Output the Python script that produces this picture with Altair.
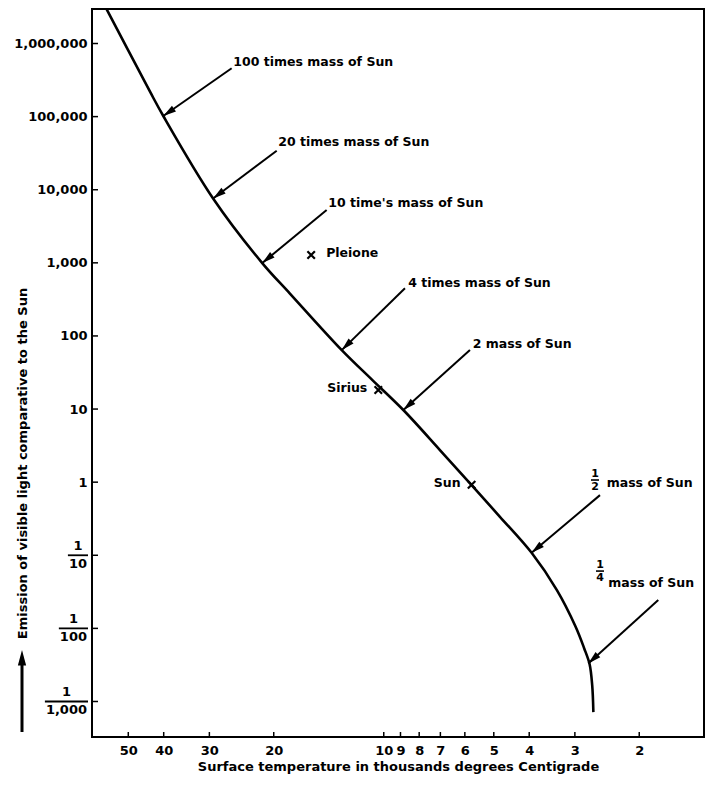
import math
import altair as alt
import pandas as pd

# ---------------- data ----------------
# main-sequence curve: surface temperature (thousands deg C) vs luminosity (Sun = 1)
curve_temp = [58.7, 43.6, 40.1, 29.3, 21.5, 18.06, 13.03, 10.74, 8.84,
              7.02, 5.75, 4.81, 3.94, 3.36, 2.99, 2.83, 2.735, 2.69, 2.67]
curve_lum = [3.7e6, 2.19e5, 1.02e5, 7.6e3, 993, 380, 64, 24.9, 9.7,
             2.75, 0.91, 0.336, 0.108, 0.0334, 0.0107, 0.00536, 0.00325, 0.00167, 0.000716]

star_names = ["Pleione", "Sirius", "Sun"]
star_temp = [15.8, 10.35, 5.75]
star_lum = [1280, 18.2, 0.92]

mass_labels = ["100 times mass of Sun", "20 times mass of Sun", "10 time's mass of Sun",
               "4 times mass of Sun", "2 mass of Sun", "mass of Sun", "mass of Sun"]
label_temp = [25.8, 19.44, 14.18, 8.57, 5.71, 2.455, 2.431]
label_lum = [5.64e5, 4.54e4, 6.52e3, 525, 77.5, 0.964, 0.0413]

arrow_tail_temp = [26.07, 19.63, 14.33, 8.75, 5.81, 2.561, 1.774]
arrow_tail_lum = [4.58e5, 3.42e4, 5.27e3, 448, 64.1, 0.665, 0.0244]
arrow_tip_temp = [40.1, 29.3, 21.5, 13.03, 8.84, 3.94, 2.757]
arrow_tip_lum = [1.02e5, 7.6e3, 993, 64, 9.7, 0.108, 0.00332]

frac_num = ["1", "1"]
frac_den = ["2", "4"]
frac_temp = [2.643, 2.561]
frac_lum = [1.07, 0.0608]

x_ticks = [50, 40, 30, 20, 10, 9, 8, 7, 6, 5, 4, 3, 2]
y_ticks = [1e6, 1e5, 1e4, 1e3, 100, 10, 1, 0.1, 0.01, 0.001]
y_frac_den = ["10", "100", "1,000"]

# ---------------- layout ----------------
W, H = 612, 728
X_DOM = [1.330, 62.84]
Y_DOM = [3.268e-4, 2.965e6]
FONT = "DejaVu Sans"
INK = "black"

xs = alt.Scale(type="log", domain=X_DOM, reverse=True, nice=False)
ys = alt.Scale(type="log", domain=Y_DOM, nice=False)

X_AXIS = alt.Axis(
    values=x_ticks, format="d",
    title="Surface temperature in thousands degrees Centigrade",
    domain=False, ticks=False, tickSize=0, grid=False,
    labelPadding=7, labelFont=FONT, labelFontSize=13, labelFontWeight="bold",
    labelColor=INK, labelOverlap=False, labelFlush=False,
    titleFont=FONT, titleFontSize=13, titleFontWeight="bold", titleColor=INK,
    titlePadding=3)
Y_AXIS = alt.Axis(
    values=y_ticks,
    labelExpr="datum.value >= 1 ? format(datum.value, ',') : ''",
    title="Emission of visible light comparative to the Sun",
    titleAngle=270, titleX=-70, titleY=454, titleAlign="center", titleBaseline="middle",
    domain=False, ticks=False, tickSize=0, grid=False,
    labelPadding=5, labelFont=FONT, labelFontSize=13, labelFontWeight="bold",
    labelColor=INK, labelOverlap=False, labelFlush=False,
    titleFont=FONT, titleFontSize=13, titleFontWeight="bold", titleColor=INK)


def X(f="T"):
    return alt.X(f"{f}:Q", scale=xs, axis=X_AXIS)


def Y(f="L"):
    return alt.Y(f"{f}:Q", scale=ys, axis=Y_AXIS)


kx = W / (math.log10(X_DOM[1]) - math.log10(X_DOM[0]))
ky = H / (math.log10(Y_DOM[1]) - math.log10(Y_DOM[0]))

# ---------------- tables ----------------
curve_df = pd.DataFrame({"T": curve_temp, "L": curve_lum, "i": list(range(len(curve_temp)))})
star_df = pd.DataFrame({"name": star_names, "T": star_temp, "L": star_lum})
label_df = pd.DataFrame({"text": mass_labels, "T": label_temp, "L": label_lum})

angles = []
for t0, l0, t1, l1 in zip(arrow_tail_temp, arrow_tail_lum, arrow_tip_temp, arrow_tip_lum):
    dx = (math.log10(t0) - math.log10(t1)) * kx
    dy = (math.log10(l0) - math.log10(l1)) * ky
    angles.append(math.degrees(math.atan2(dx, -dy)) % 360)
arrow_df = pd.DataFrame({"T": arrow_tail_temp, "L": arrow_tail_lum,
                         "T1": arrow_tip_temp, "L1": arrow_tip_lum, "ang": angles})
frac_df = pd.DataFrame({"num": frac_num, "den": frac_den, "T": frac_temp, "L": frac_lum})
xt_df = pd.DataFrame({"T": x_ticks})
yt_df = pd.DataFrame({"L": y_ticks})

HEAD = "M0,0L0.7,2.6L-0.7,2.6Z"
XMARK = "M-1,-1L1,1M1,-1L-1,1"

txt = dict(font=FONT, fontWeight="bold", color=INK)

# ---------------- layers ----------------
curve = alt.Chart(curve_df).mark_line(
    color=INK, strokeWidth=2.6, clip=True, interpolate="catmull-rom"
).encode(x=X(), y=Y(), order="i:Q")

stars = alt.Chart(star_df).mark_point(
    shape=XMARK, filled=False, stroke=INK, strokeWidth=2.2, size=56, opacity=1
).encode(x=X(), y=Y())

pleione_lbl = alt.Chart(star_df).transform_filter("datum.name == 'Pleione'").mark_text(
    align="left", baseline="middle", dx=15, dy=-2, fontSize=12.5, **txt
).encode(x=X(), y=Y(), text="name:N")
other_lbl = alt.Chart(star_df).transform_filter("datum.name != 'Pleione'").mark_text(
    align="right", baseline="middle", dx=-11, dy=-2, fontSize=12.5, **txt
).encode(x=X(), y=Y(), text="name:N")

shafts = alt.Chart(arrow_df).mark_rule(color=INK, strokeWidth=2).encode(
    x=X(), y=Y(), x2=alt.X2("T1:Q"), y2=alt.Y2("L1:Q"))
heads = alt.Chart(arrow_df).mark_point(
    shape=HEAD, filled=True, color=INK, size=100, opacity=1, strokeWidth=0
).encode(x=X("T1"), y=Y("L1"), angle=alt.Angle("ang:Q", scale=None))

labels = alt.Chart(label_df).mark_text(
    align="left", baseline="middle", fontSize=12.5, **txt
).encode(x=X(), y=Y(), text="text:N")

nums = alt.Chart(frac_df).mark_text(
    align="center", baseline="middle", dy=-6, fontSize=11, **txt
).encode(x=X(), y=Y(), text="num:N")
dens = alt.Chart(frac_df).mark_text(
    align="center", baseline="middle", dy=7, fontSize=11, **txt
).encode(x=X(), y=Y(), text="den:N")
bars = alt.Chart(frac_df).mark_rule(
    color=INK, strokeWidth=1.6, xOffset=-4, x2Offset=4
).encode(x=X(), x2=alt.X2("T:Q"), y=Y())

yticks = alt.Chart(yt_df).mark_rule(color=INK, strokeWidth=1.5).encode(
    x=alt.value(0), x2=alt.value(6), y=Y())
xticks = alt.Chart(xt_df).mark_rule(color=INK, strokeWidth=1.5).encode(
    x=X(), y=alt.value(H), y2=alt.value(H - 5))

layers = [curve, stars, pleione_lbl, other_lbl, shafts, heads, labels,
          nums, dens, bars, yticks, xticks]

# stacked-fraction labels for the small luminosities on the y axis
for den in y_frac_den:
    val = 1.0 / int(den.replace(",", ""))
    w = 9.05 * sum(c.isdigit() for c in den) + 4.9 * den.count(",")
    d = pd.DataFrame({"L": [val], "num": ["1"], "den": [den]})
    layers.append(alt.Chart(d).mark_text(
        align="center", baseline="middle", dy=-9, fontSize=13, **txt
    ).encode(x=alt.value(-5 - w / 2), y=Y(), text="num:N"))
    layers.append(alt.Chart(d).mark_text(
        align="right", baseline="middle", dy=9, fontSize=13, **txt
    ).encode(x=alt.value(-5), y=Y(), text="den:N"))
    layers.append(alt.Chart(d).mark_rule(color=INK, strokeWidth=1.8).encode(
        x=alt.value(-6 - w), x2=alt.value(-4), y=Y()))

# upward arrow beside the y-axis title
one = pd.DataFrame({"a": [0]})
layers.append(alt.Chart(one).mark_rule(color=INK, strokeWidth=3).encode(
    x=alt.value(-70), y=alt.value(652), y2=alt.value(723)))
layers.append(alt.Chart(one).mark_point(
    shape=HEAD, filled=True, color=INK, size=140, opacity=1, strokeWidth=0, angle=0
).encode(x=alt.value(-70), y=alt.value(641)))

chart = alt.layer(*layers).properties(
    width=W, height=H,
    padding={"left": 84, "top": 1, "right": 1, "bottom": 37},
    autosize=alt.AutoSizeParams(type="none"),
    background="white",
).configure_view(stroke=INK, strokeWidth=2)

chart.save("out.html", embed_options={"renderer": "svg", "actions": False})
